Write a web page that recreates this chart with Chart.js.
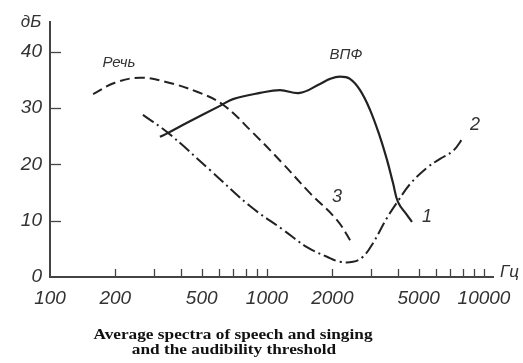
<!DOCTYPE html>
<html>
<head>
<meta charset="utf-8">
<script src="https://cdn.jsdelivr.net/npm/chart.js@4.4.1/dist/chart.umd.min.js"></script>
<style>
  html, body { margin: 0; padding: 0; background: #ffffff; }
  canvas { display: block; }
</style>
</head>
<body>
<canvas id="c" width="523" height="363"></canvas>
<script>
// ---- data ----
const speechFreq = [158, 199, 260, 339, 476, 627, 862, 1173, 1578, 2102, 2464];
const speechDb   = [32.5, 34.5, 35.4, 34.7, 32.9, 30.6, 25.6, 20.3, 14.9, 10.1, 6.0];

const vpfFreq = [321, 350, 428, 607, 697, 929, 1148, 1419, 1755, 1951, 2170, 2412, 2684, 2983, 3315, 3572, 3808, 4016, 4420, 4659];
const vpfDb   = [24.9, 25.6, 27.4, 30.4, 31.6, 32.7, 33.2, 32.7, 34.3, 35.2, 35.6, 35.2, 33.2, 29.7, 24.9, 20.8, 16.7, 13.3, 11.0, 9.8];

const thrFreq = [268, 350, 546, 835, 1185, 1528, 1889, 2170, 2490, 2768, 3078, 3572, 4016, 4560, 5459, 6269, 7195, 8000];
const thrDb   = [28.8, 25.6, 19.0, 12.6, 8.4, 5.3, 3.6, 2.7, 2.7, 3.6, 6.0, 10.5, 13.5, 16.5, 19.4, 21.0, 22.4, 24.7];

const xTickLabels = [100, 200, 500, 1000, 2000, 5000, 10000];
const xMinorTicks = [200, 300, 400, 500, 600, 700, 800, 900, 1000, 2000, 3000, 4000, 5000, 6000, 7000, 8000, 9000, 10000];
const yTickLabels = [0, 10, 20, 30, 40];
const yMarkTicks  = [10, 20, 30, 40];

const captionLines = ['Average spectra of speech and singing', 'and the audibility threshold'];

function pts(xs, ys) { return xs.map((x, i) => ({ x: x, y: ys[i] })); }

const INK = '#222222';

const decor = {
  id: 'decor',
  afterDatasetsDraw(chart) {
    const ctx = chart.ctx;
    const xs = chart.scales.x, ys = chart.scales.y;
    const ca = chart.chartArea;
    ctx.save();
    ctx.strokeStyle = '#444';
    ctx.lineWidth = 1.3;
    // inward x tick marks
    xMinorTicks.forEach(v => {
      const px = Math.round(xs.getPixelForValue(v)) + 0.5;
      ctx.beginPath();
      ctx.moveTo(px, ca.bottom);
      ctx.lineTo(px, ca.bottom - 8);
      ctx.stroke();
    });
    // inward y tick marks
    yMarkTicks.forEach(v => {
      const py = Math.round(ys.getPixelForValue(v)) + 0.5;
      ctx.beginPath();
      ctx.moveTo(ca.left, py);
      ctx.lineTo(ca.left + 11, py);
      ctx.stroke();
    });
    // axis unit labels
    ctx.fillStyle = '#333';
    ctx.textBaseline = 'middle';
    ctx.font = 'italic 17px "Liberation Sans", Arial, sans-serif';
    ctx.textAlign = 'center';
    ctx.fillText('дБ', 31, 22);
    ctx.textAlign = 'left';
    ctx.fillText('Гц', 500, 272);
    // curve labels
    ctx.textAlign = 'center';
    ctx.font = 'italic 15px "Liberation Sans", Arial, sans-serif';
    ctx.fillText('Речь', 119, 63);
    ctx.fillText('ВПФ', 346, 55);
    ctx.font = 'italic 18px "Liberation Sans", Arial, sans-serif';
    ctx.fillText('1', 427, 217);
    ctx.fillText('2', 475, 125);
    ctx.fillText('3', 337, 197);
    // caption (slightly widened like the original print)
    ctx.fillStyle = '#111';
    ctx.font = 'bold 15px "Liberation Serif", "Times New Roman", serif';
    const sx = 1.15;
    ctx.save();
    ctx.translate(233, 335);
    ctx.scale(sx, 1);
    ctx.fillText(captionLines[0], 0, 0);
    ctx.restore();
    ctx.save();
    ctx.translate(234, 350);
    ctx.scale(sx, 1);
    ctx.fillText(captionLines[1], 0, 0);
    ctx.restore();
    ctx.restore();
  }
};

new Chart(document.getElementById('c'), {
  type: 'scatter',
  data: {
    datasets: [
      {
        label: 'Речь',
        data: pts(speechFreq, speechDb),
        showLine: true,
        borderColor: INK,
        borderWidth: 2,
        borderDash: [10, 5],
        pointRadius: 0,
        tension: 0.4,
        fill: false
      },
      {
        label: 'ВПФ',
        data: pts(vpfFreq, vpfDb),
        showLine: true,
        borderColor: INK,
        borderWidth: 2.2,
        pointRadius: 0,
        tension: 0.4,
        fill: false
      },
      {
        label: 'threshold',
        data: pts(thrFreq, thrDb),
        showLine: true,
        borderColor: INK,
        borderWidth: 2,
        borderDash: [13, 4, 2, 4],
        pointRadius: 0,
        tension: 0.4,
        fill: false
      }
    ]
  },
  options: {
    responsive: false,
    animation: false,
    devicePixelRatio: 1,
    layout: { padding: { left: 0, top: 22, right: 30, bottom: 0 } },
    plugins: { legend: { display: false }, tooltip: { enabled: false }, title: { display: false } },
    scales: {
      x: {
        type: 'logarithmic',
        position: 'bottom',
        min: 100,
        max: 11000,
        afterBuildTicks(scale) { scale.ticks = xTickLabels.map(v => ({ value: v })); },
        afterFit(scale) { scale.height = 86; },
        ticks: {
          autoSkip: false,
          maxRotation: 0,
          padding: 10,
          color: '#333',
          font: { family: '"Liberation Sans", Arial, sans-serif', size: 19, style: 'italic' },
          callback: (v) => String(v)
        },
        grid: { display: false, drawTicks: false },
        border: { display: true, color: '#444', width: 2 }
      },
      y: {
        type: 'linear',
        min: 0,
        max: 45.3,
        afterBuildTicks(scale) { scale.ticks = yTickLabels.map(v => ({ value: v })); },
        afterFit(scale) { scale.width = 50; },
        ticks: {
          padding: 8,
          color: '#333',
          font: { family: '"Liberation Sans", Arial, sans-serif', size: 19, style: 'italic' },
          callback: (v) => String(v)
        },
        grid: { display: false, drawTicks: false },
        border: { display: true, color: '#444', width: 2 }
      }
    }
  },
  plugins: [decor]
});
</script>
</body>
</html>
